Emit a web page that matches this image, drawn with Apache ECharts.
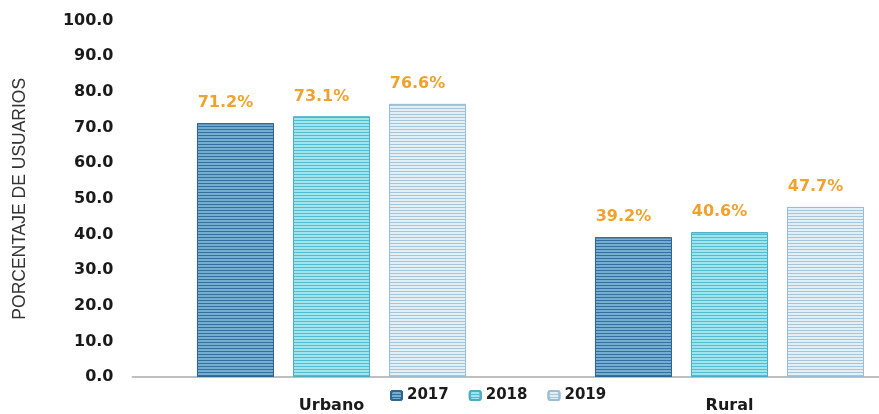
<!DOCTYPE html>
<html>
<head>
<meta charset="utf-8">
<script src="https://cdn.jsdelivr.net/npm/echarts@6/dist/echarts.min.js"></script>
<style>
html,body{margin:0;padding:0;background:#fff;}
#chart{width:879px;height:414px;}
</style>
</head>
<body>
<div id="chart"></div>
<script>
const categories = ['Urbano', 'Rural'];
const years = ['2017', '2018', '2019'];
const values2017 = [71.2, 39.2];
const values2018 = [73.1, 40.6];
const values2019 = [76.6, 47.7];
const yTicks = [0, 10, 20, 30, 40, 50, 60, 70, 80, 90, 100];

const seriesValues = [values2017, values2018, values2019];
const baseColors = ['#76aed2', '#a0e4ee', '#e2f0f6'];
const lineColors = ['#336f9f', '#55bccf', '#a6c5da'];
const borderColors = ['#2f6690', '#4aaec4', '#9dbdd2'];

const chart = echarts.init(document.getElementById('chart'), null, {renderer: 'canvas'});

const option = {
  backgroundColor: '#ffffff',
  animation: false,
  grid: {left: 132.5, right: -49.5, top: 20.5, bottom: 37, containLabel: false, outerBoundsMode: 'none'},
  legend: {
    data: years,
    left: 385,
    top: 383,
    itemWidth: 11,
    itemHeight: 9,
    itemGap: 20,
    textStyle: {fontFamily: 'DejaVu Sans', fontWeight: 'bold', fontSize: 15, color: '#1a1a1a'}
  },
  xAxis: {
    type: 'category',
    data: categories,
    axisLine: {show: true, lineStyle: {color: '#bfbfbf', width: 2}},
    axisTick: {show: false},
    axisLabel: {margin: 21, fontFamily: 'DejaVu Sans', fontWeight: 'bold', fontSize: 16, color: '#1a1a1a'}
  },
  yAxis: {
    type: 'value',
    min: yTicks[0],
    max: yTicks[yTicks.length - 1],
    interval: 10,
    name: 'PORCENTAJE DE USUARIOS',
    nameLocation: 'middle',
    nameGap: 103,
    nameRotate: 90,
    nameTextStyle: {fontFamily: 'Liberation Sans', fontSize: 17.5, color: '#333'},
    axisLine: {show: false},
    axisTick: {show: false},
    splitLine: {show: false},
    axisLabel: {
      margin: 19,
      fontFamily: 'DejaVu Sans', fontWeight: 'bold', fontSize: 16, color: '#1a1a1a',
      formatter: v => v.toFixed(1)
    }
  },
  series: years.map((y, i) => ({
    name: y,
    type: 'bar',
    data: seriesValues[i],
    barWidth: 77,
    barGap: '24.7%',
    itemStyle: {
      color: baseColors[i],
      borderColor: borderColors[i],
      borderWidth: 1,
      decal: {
        symbol: 'rect',
        symbolSize: 1,
        color: lineColors[i],
        dashArrayX: [1, 0],
        dashArrayY: [1, 2],
        rotation: 0
      }
    },
    label: {
      show: true,
      position: 'top',
      distance: 12,
      offset: [-10, 0],
      fontFamily: 'DejaVu Sans',
      fontWeight: 'bold',
      fontSize: 16,
      color: '#f0a22e',
      formatter: p => p.value.toFixed(1) + '%'
    }
  }))
};
chart.setOption(option);
</script>
</body>
</html>
